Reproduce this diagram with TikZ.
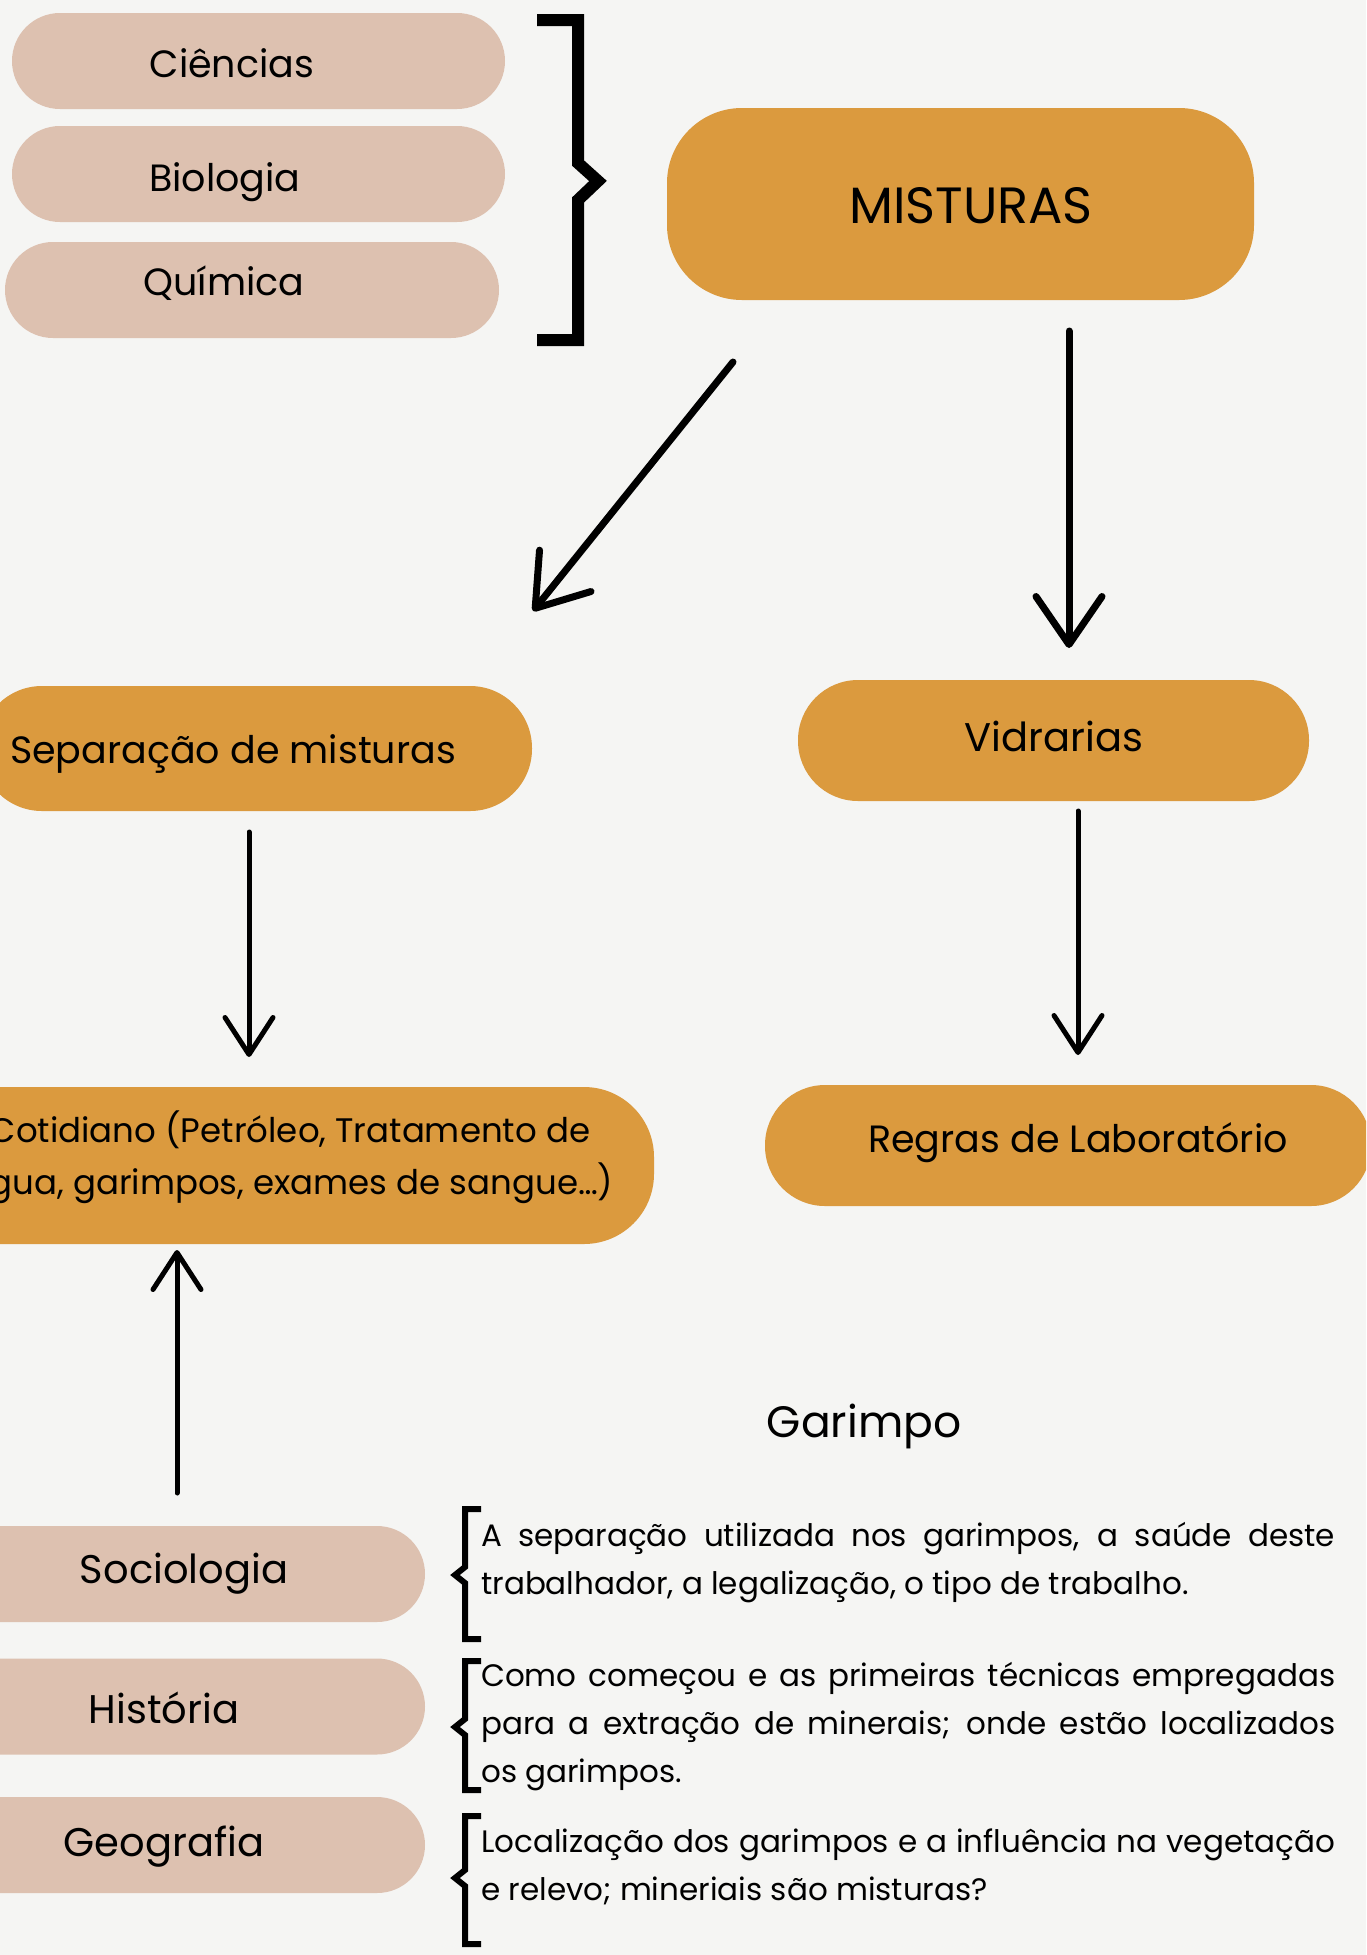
\documentclass[tikz,border=0pt]{standalone}
\usepackage{fontspec}
\setmainfont{Poppins}
\usetikzlibrary{arrows.meta}
\definecolor{bgc}{HTML}{F5F5F3}
\definecolor{tanc}{HTML}{DDC1B0}
\definecolor{orngc}{HTML}{DB9A3E}
\begin{document}
\begin{tikzpicture}[x=1pt,y=-1pt,
  pill/.style={fill=tanc, draw=none, rounded corners=48pt, inner sep=0pt, minimum width=#1, minimum height=96pt},
  obox/.style={fill=orngc, draw=none, inner sep=0pt},
  txt/.style={inner sep=0pt, anchor=base, text=black},
  arrbig/.style={line width=7pt, line cap=round, -{Straight Barb[length=48pt,width=66pt,round]}},
  arrsm/.style={line width=5pt, line cap=round, -{Straight Barb[length=37pt,width=48pt,round]}},
  brk/.style={line width=6pt, line join=miter, line cap=butt},
  para/.style={inner sep=0pt, anchor=north west, align=left, font=\fontsize{31}{48}\selectfont}
]
\useasboundingbox (0,0) rectangle (1366,1955);
\clip (0,0) rectangle (1366,1955);
\fill[bgc] (0,0) rectangle (1366,1955);

% top subject pills
\node[pill=493pt] (cien) at (258.5,61) {};
\node[pill=493pt] (bio) at (258.5,174) {};
\node[pill=494pt] (qui) at (252,290) {};
\node[txt, font=\fontsize{38}{40}\selectfont] (cient) at (232,77) {Ciências};
\node[txt, font=\fontsize{38}{40}\selectfont] (biot) at (225,191) {Biologia};
\node[txt, font=\fontsize{38}{40}\selectfont] (quit) at (224,295) {Química};

% big bracket
\draw[line width=12pt, line join=miter] (537,20) -- (578,20) -- (578,163) -- (598,181) -- (578,200) -- (578,340) -- (537,340);

% main boxes
\node[obox, rounded corners=75pt, minimum width=587pt, minimum height=192pt] (mist) at (960.5,204) {};
\node[txt, font=\fontsize{51}{53}\selectfont] (mistt) at (971,223) {MISTURAS};

\node[obox, rounded corners=62pt, minimum width=552pt, minimum height=125pt] (sep) at (256,748.5) {};
\node[txt, font=\fontsize{38}{40}\selectfont] (sept) at (233,763) {Separação de misturas};

\node[obox, rounded corners=60pt, minimum width=511pt, minimum height=121pt] (vid) at (1053.5,740.5) {};
\node[txt, font=\fontsize{40}{42}\selectfont] (vidt) at (1054,751) {Vidrarias};

\node[obox, rounded corners=70pt, minimum width=728pt, minimum height=157pt] (cot) at (290,1165.5) {};
\node[txt, font=\fontsize{34}{52}\selectfont] (cott1) at (290,1142) {Cotidiano (Petróleo, Tratamento de};
\node[txt, font=\fontsize{34}{52}\selectfont] (cott2) at (290,1194) {água, garimpos, exames de sangue…)};

\node[obox, rounded corners=60pt, minimum width=606pt, minimum height=121pt] (reg) at (1068,1145.5) {};
\node[txt, font=\fontsize{38}{40}\selectfont] (regt) at (1078,1152) {Regras de Laboratório};

% arrows
\coordinate (a1s) at (733,362);
\coordinate (a1e) at (533,611);
\coordinate (a2s) at (1069,331);
\coordinate (a2e) at (1069,648);
\coordinate (a3s) at (249,832);
\coordinate (a3e) at (249,1057);
\coordinate (a4s) at (1078,811);
\coordinate (a4e) at (1078,1055);
\coordinate (a5s) at (177,1493);
\coordinate (a5e) at (177,1250);
\draw[arrbig] (a1s) -- (a1e);
\draw[arrbig] (a2s) -- (a2e);
\draw[arrsm] (a3s) -- (a3e);
\draw[arrsm] (a4s) -- (a4e);
\draw[arrsm] (a5s) -- (a5e);

% Garimpo section
\node[txt, font=\fontsize{44}{46}\selectfont] (gar) at (864,1437) {Garimpo};

\node[pill=525pt] (soc) at (162.5,1574) {};
\node[pill=525pt] (his) at (162.5,1706.5) {};
\node[pill=525pt] (geo) at (162.5,1845) {};
\node[txt, font=\fontsize{40}{42}\selectfont] (soct) at (184,1583) {Sociologia};
\node[txt, font=\fontsize{40}{42}\selectfont] (hist) at (164,1723) {História};
\node[txt, font=\fontsize{40}{42}\selectfont] (geot) at (164,1856) {Geografia};

% small braces
\draw[brk] (481,1509) -- (465,1509) -- (465,1567) -- (455,1575) -- (465,1583) -- (465,1639) -- (481,1639);
\draw[brk] (481,1661) -- (465,1661) -- (465,1719) -- (455,1727) -- (465,1735) -- (465,1790) -- (481,1790);
\draw[brk] (481,1816) -- (465,1816) -- (465,1870) -- (455,1878) -- (465,1886) -- (465,1944) -- (481,1944);

% paragraphs
\node[para] (p1) at (481,1513) {\strut\makebox[854pt][s]{A separação utilizada nos garimpos, a saúde deste}\\trabalhador, a legalização, o tipo de trabalho.};
\node[para] (p2) at (481,1653) {\strut\makebox[854pt][s]{Como começou e as primeiras técnicas empregadas}\\\makebox[854pt][s]{para a extração de minerais; onde estão localizados}\\os garimpos.};
\node[para] (p3) at (481,1819) {\strut\makebox[854pt][s]{Localização dos garimpos e a influência na vegetação}\\e relevo; mineriais são misturas?};
\end{tikzpicture}
\end{document}
